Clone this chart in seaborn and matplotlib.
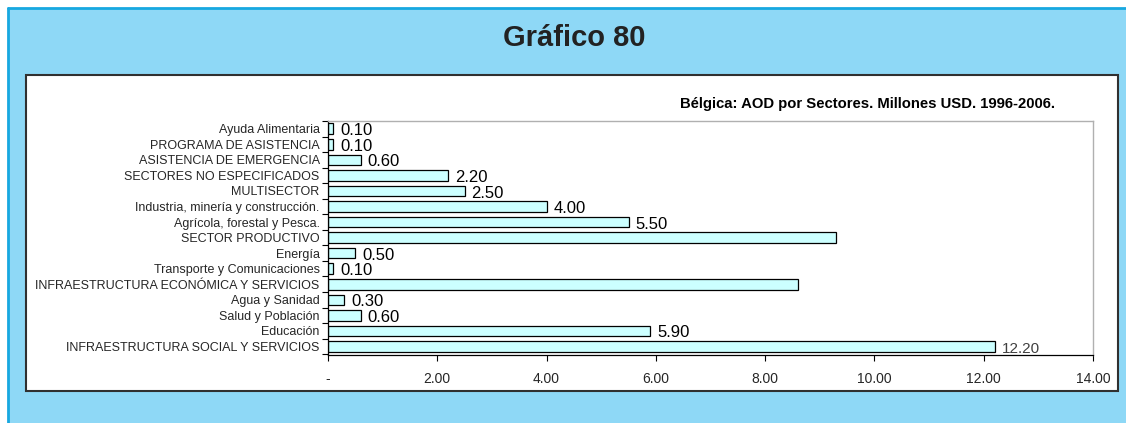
import matplotlib
matplotlib.use("Agg")
import matplotlib.pyplot as plt
import seaborn as sns
import pandas as pd
from matplotlib.patches import Rectangle

categories = [
    "Ayuda Alimentaria",
    "PROGRAMA DE ASISTENCIA",
    "ASISTENCIA DE EMERGENCIA",
    "SECTORES NO ESPECIFICADOS",
    "MULTISECTOR",
    "Industria, minería y construcción.",
    "Agrícola, forestal y Pesca.",
    "SECTOR PRODUCTIVO",
    "Energía",
    "Transporte y Comunicaciones",
    "INFRAESTRUCTURA ECONÓMICA Y SERVICIOS",
    "Agua y Sanidad",
    "Salud y Población",
    "Educación",
    "INFRAESTRUCTURA SOCIAL Y SERVICIOS",
]
values = [0.10, 0.10, 0.60, 2.20, 2.50, 4.00, 5.50, 9.30, 0.50, 0.10, 8.60, 0.30, 0.60, 5.90, 12.20]
value_labels = ["0.10", "0.10", "0.60", "2.20", "2.50", "4.00", "5.50", "",
                "0.50", "0.10", "", "0.30", "0.60", "5.90", "12.20"]
x_ticks = [0, 2, 4, 6, 8, 10, 12, 14]
x_tick_labels = ["-", "2.00", "4.00", "6.00", "8.00", "10.00", "12.00", "14.00"]

df = pd.DataFrame({"sector": categories, "valor": values})

sns.set_style("white")
plt.rcParams["font.family"] = ["Liberation Sans", "DejaVu Sans"]

W, H = 1126, 423
fig = plt.figure(figsize=(W / 100, H / 100), dpi=100)
fig.patch.set_facecolor("white")

# outer light blue frame with darker edge on top/left
fig.patches.append(Rectangle((8 / W, 0), 1 - 8 / W, 1 - 8 / H, transform=fig.transFigure,
                             facecolor="#8ED8F6", edgecolor="none", zorder=0))
fig.add_artist(plt.Line2D([8 / W, 8 / W], [0, 1 - 8 / H], transform=fig.transFigure,
                          color="#18A8E0", lw=2, zorder=1))
fig.add_artist(plt.Line2D([8 / W, 1], [1 - 8 / H, 1 - 8 / H], transform=fig.transFigure,
                          color="#18A8E0", lw=2, zorder=1))
# white inner panel
fig.patches.append(Rectangle((26 / W, 1 - 391 / H), (1118 - 26) / W, (391 - 75) / H,
                             transform=fig.transFigure, facecolor="white",
                             edgecolor="#303030", lw=1.5, zorder=1))

fig.text(574 / W, 1 - 38 / H, "Gráfico 80", ha="center", va="center",
         fontsize=21, fontweight="bold", color="#222222")
fig.text(868 / W, 1 - 104 / H, "Bélgica: AOD por Sectores. Millones USD. 1996-2006.",
         ha="center", va="center", fontsize=10.7, fontweight="bold", color="black")

ax = fig.add_axes([328 / W, 1 - 355 / H, (1093 - 328) / W, (355 - 121) / H])
ax.set_zorder(2)
sns.barplot(data=df, x="valor", y="sector", orient="h", color="#CCFFFF",
            edgecolor="black", linewidth=0.9, width=0.68, saturation=1, ax=ax)

texts = ax.bar_label(ax.containers[0], labels=value_labels, padding=5, fontsize=12, color="black")
for t in texts:
    t.xyann = (t.xyann[0], -1.5)
texts[-1].set_color("#404040")
texts[-1].set_fontsize(11)

ax.set_xlim(0, 14)
ax.set_ylim(14.55, -0.45)
ax.set_xticks(x_ticks)
ax.set_xticklabels(x_tick_labels, fontsize=10)
ax.set_xlabel("")
ax.set_ylabel("")
ax.tick_params(axis="x", direction="out", length=4, width=0.8, pad=8.5, bottom=True, color="black")
ax.tick_params(axis="y", which="major", length=0, pad=6, labelsize=9)
ax.set_yticks([i - 0.5 for i in range(len(categories) + 1)], minor=True)
ax.tick_params(axis="y", which="minor", direction="out", length=4, width=0.8, left=True, color="black")

for side in ["top", "right"]:
    ax.spines[side].set_color("#B0B0B0")
    ax.spines[side].set_linewidth(1)
for side in ["left", "bottom"]:
    ax.spines[side].set_color("black")
    ax.spines[side].set_linewidth(0.9)

fig.savefig("out.png", dpi=100)
